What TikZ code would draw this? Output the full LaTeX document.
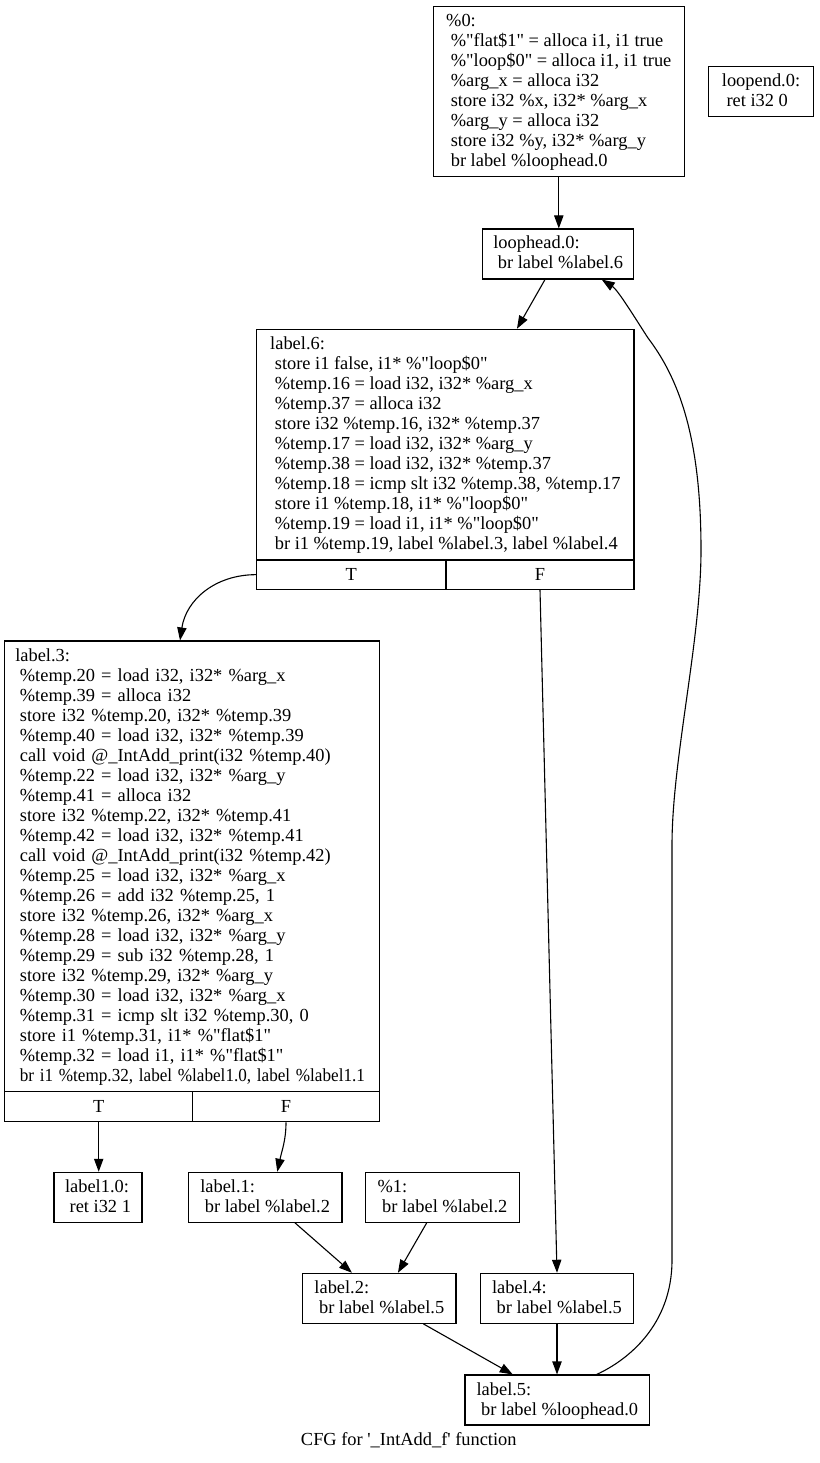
\documentclass[tikz,border=0pt]{standalone}
\usepackage{fontspec}
\usepackage{graphicx}
\newfontfamily\cfgfont{Liberation Serif}
\usetikzlibrary{arrows.meta}
\newcommand\cfgi{\hspace*{4.6pt}}
\newcommand\cfgtop{\rule{0pt}{14pt}}
\newcommand\cfgbot{\rule[-4pt]{0pt}{4pt}}
\begin{document}
\begin{tikzpicture}[x=1pt,y=-1pt,
  cfgtxt/.style={font={\cfgfont\fontsize{18.4}{20}\selectfont}},
  blk/.style={cfgtxt, draw, line width=1.1pt, rectangle, align=left, inner xsep=10.6pt, inner ysep=0pt},
  cell/.style={cfgtxt, draw, line width=1.1pt, rectangle, inner sep=0pt},
  edge/.style={line width=1.1pt, -{Triangle[length=13pt,width=9.3pt]}},
]
\fill[white] (0,0) rectangle (819,1463);
\useasboundingbox (0,0) rectangle (819,1463);

\node[blk, minimum width=251pt, minimum height=170pt] (n0) at (558.8,91.7) {\cfgtop\%0:\\
\cfgi\%"flat\$1" = alloca i1, i1 true\\
\cfgi\%"loop\$0" = alloca i1, i1 true\\
\cfgi\%arg\_x = alloca i32\\
\cfgi store i32 \%x, i32* \%arg\_x\\
\cfgi\%arg\_y = alloca i32\\
\cfgi store i32 \%y, i32* \%arg\_y\\
\cfgi br label \%loophead.0\cfgbot};

\node[blk, minimum width=105pt, minimum height=50pt] (le) at (761,91.7) {\cfgtop loopend.0:\\
\cfgi ret i32 0\cfgbot};

\node[blk, minimum width=151pt, minimum height=50pt] (lh) at (558.2,254) {\cfgtop loophead.0:\\
\cfgi br label \%label.6\cfgbot};

\node[blk, minimum width=377.3pt, minimum height=230.7pt] (l6) at (445.35,444.65) {\cfgtop label.6:\\
\cfgi store i1 false, i1* \%"loop\$0"\\
\cfgi\%temp.16 = load i32, i32* \%arg\_x\\
\cfgi\%temp.37 = alloca i32\\
\cfgi store i32 \%temp.16, i32* \%temp.37\\
\cfgi\%temp.17 = load i32, i32* \%arg\_y\\
\cfgi\%temp.38 = load i32, i32* \%temp.37\\
\cfgi\%temp.18 = icmp slt i32 \%temp.38, \%temp.17\\
\cfgi store i1 \%temp.18, i1* \%"loop\$0"\\
\cfgi\%temp.19 = load i1, i1* \%"loop\$0"\\
\cfgi br i1 \%temp.19, label \%label.3, label \%label.4\cfgbot};
\node[cell, minimum width=189.3pt, minimum height=29.3pt] (l6T) at (351.35,574.65) {T};
\node[cell, minimum width=188pt, minimum height=29.3pt] (l6F) at (540,574.65) {F};

\node[blk, text width=353.4pt, minimum height=450.7pt] (l3) at (192,866.35) {\cfgtop label.3:\\
\cfgi\%temp.20 = load i32, i32* \%arg\_x\\
\cfgi\%temp.39 = alloca i32\\
\cfgi store i32 \%temp.20, i32* \%temp.39\\
\cfgi\%temp.40 = load i32, i32* \%temp.39\\
\cfgi call void @\_IntAdd\_print(i32 \%temp.40)\\
\cfgi\%temp.22 = load i32, i32* \%arg\_y\\
\cfgi\%temp.41 = alloca i32\\
\cfgi store i32 \%temp.22, i32* \%temp.41\\
\cfgi\%temp.42 = load i32, i32* \%temp.41\\
\cfgi call void @\_IntAdd\_print(i32 \%temp.42)\\
\cfgi\%temp.25 = load i32, i32* \%arg\_x\\
\cfgi\%temp.26 = add i32 \%temp.25, 1\\
\cfgi store i32 \%temp.26, i32* \%arg\_x\\
\cfgi\%temp.28 = load i32, i32* \%arg\_y\\
\cfgi\%temp.29 = sub i32 \%temp.28, 1\\
\cfgi store i32 \%temp.29, i32* \%arg\_y\\
\cfgi\%temp.30 = load i32, i32* \%arg\_x\\
\cfgi\%temp.31 = icmp slt i32 \%temp.30, 0\\
\cfgi store i1 \%temp.31, i1* \%"flat\$1"\\
\cfgi\%temp.32 = load i1, i1* \%"flat\$1"\\
\cfgi\resizebox{345pt}{\height}{br i1 \%temp.32, label \%label1.0, label \%label1.1}\cfgbot};
\node[cell, minimum width=188pt, minimum height=30pt] (l3T) at (98.7,1106.7) {T};
\node[cell, minimum width=186.6pt, minimum height=30pt] (l3F) at (286,1106.7) {F};

\node[blk, minimum width=88pt, minimum height=50pt] (l10) at (98,1197.3) {\cfgtop label1.0:\\
\cfgi ret i32 1\cfgbot};
\node[blk, minimum width=153.7pt, minimum height=50pt] (l11) at (265.15,1197.3) {\cfgtop label.1:\\
\cfgi br label \%label.2\cfgbot};
\node[blk, minimum width=153.6pt, minimum height=50pt] (p1) at (442.5,1197.3) {\cfgtop\%1:\\
\cfgi br label \%label.2\cfgbot};

\node[blk, minimum width=153.3pt, minimum height=50pt] (l2) at (379.35,1298.3) {\cfgtop label.2:\\
\cfgi br label \%label.5\cfgbot};
\node[blk, minimum width=153.4pt, minimum height=50pt] (l4) at (557,1298.3) {\cfgtop label.4:\\
\cfgi br label \%label.5\cfgbot};
\node[blk, minimum width=184.7pt, minimum height=50pt] (l5) at (557.35,1400) {\cfgtop label.5:\\
\cfgi br label \%loophead.0\cfgbot};

\node[cfgtxt, anchor=base, inner sep=0pt] (cap) at (408.8,1445) {CFG for '\_IntAdd\_f' function};

\draw[edge] (n0.south) -- (n0.south |- lh.north);
\draw[edge] ([xshift=-13.2pt]lh.south) -- ([xshift=71.6pt]l6.north);
\draw[edge] ([xshift=39.3pt]l5.north) .. controls (628,1360) and (672,1325) .. (672,1260)
  -- (672,845) .. controls (672,760) and (701,640) .. (701,550)
  .. controls (701,440) and (680,380) .. (648,338)
  .. controls (635,318) and (618,290) .. ([xshift=43.5pt]lh.south);
\draw[edge] (l6T.west) .. controls (215,574.65) and (186,600) .. ([xshift=-12pt]l3.north);
\draw[edge] (l6F.south) -- (l4.north);
\draw[edge] (l3T.south) -- (l3T.south |- l10.north);
\draw[edge] (l3F.south) .. controls (286,1140) and (282,1150) .. ([xshift=12.15pt]l11.north);
\draw[edge] ([xshift=29.85pt]l11.south) -- ([xshift=-27.4pt]l2.north);
\draw[edge] ([xshift=-15.8pt]p1.south) -- ([xshift=18.6pt]l2.north);
\draw[edge] ([xshift=44pt]l2.south) -- ([xshift=-44.6pt]l5.north);
\draw[edge] (l4.south) -- (l4.south |- l5.north);
\end{tikzpicture}
\end{document}
